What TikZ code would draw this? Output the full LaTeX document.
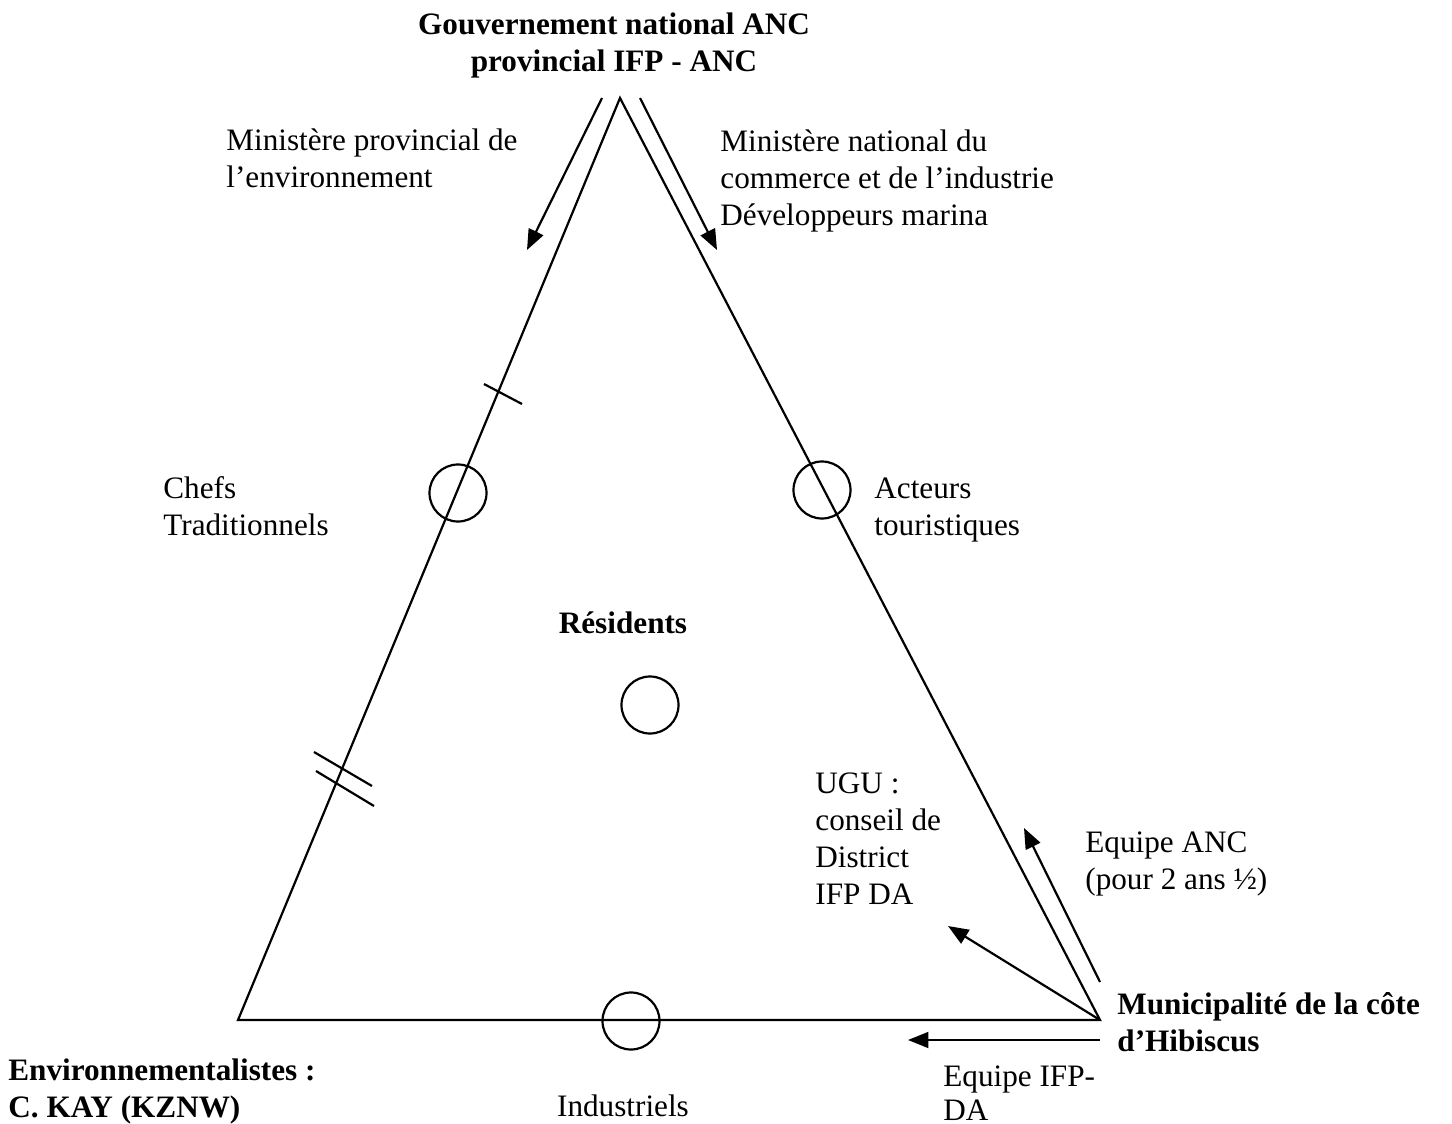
\documentclass[tikz,border=0pt]{standalone}
\usepackage{fontspec}
\setmainfont{Liberation Serif}
\usetikzlibrary{arrows.meta,positioning,calc}

\begin{document}
\begin{tikzpicture}[
  x=0.5pt, y=-0.5pt,
  side/.style={draw, line width=1.1pt},
  flow/.style={draw, line width=1.1pt, -{Triangle[length=3.6mm, width=2.8mm]}},
  actor/.style={circle, draw, line width=1.1pt, minimum size=28.5pt, inner sep=0pt},
  tick/.style={draw, line width=1.1pt},
  lbl/.style={font=\fontsize{15.6}{18.5}\selectfont, align=left, anchor=base west, inner sep=0pt},
  blbl/.style={lbl, font=\fontsize{15.6}{18.5}\selectfont\bfseries}
]
  \useasboundingbox (0,0) rectangle (1452,1124);

  % corners of the triangle
  \coordinate (top) at (620,98);
  \coordinate (left) at (238,1020);
  \coordinate (right) at (1100,1020);
  \draw[side] (top) -- (left) -- (right) -- cycle;

  % actors on the triangle
  \node[actor] (chefs) at (458,493) {};
  \node[actor] (tourism) at (822,490) {};
  \node[actor] (residents) at (650,705) {};
  \node[actor] (industry) at (631,1021) {};

  % marks on the left side
  \coordinate (t1a) at (484,384); \coordinate (t1b) at (522,404);
  \draw[tick] (t1a) -- (t1b);
  \coordinate (t2a) at (314,752); \coordinate (t2b) at (372,786);
  \coordinate (t3a) at (316,771); \coordinate (t3b) at (374,806);
  \draw[tick] (t2a) -- (t2b);
  \draw[tick] (t3a) -- (t3b);

  % arrows from the top
  \coordinate (a1s) at (602,98); \coordinate (a1e) at (527,250);
  \coordinate (a2s) at (640,98); \coordinate (a2e) at (717,250);
  \draw[flow] (a1s) -- (a1e);
  \draw[flow] (a2s) -- (a2e);

  % arrows from the municipality
  \coordinate (b1s) at (1100,982); \coordinate (b1e) at (1024,828);
  \coordinate (b2e) at (948,926);
  \coordinate (b3s) at (1100,1040); \coordinate (b3e) at (908,1040);
  \draw[flow] (b1s) -- (b1e);
  \draw[flow] (right) -- (b2e);
  \draw[flow] (b3s) -- (b3e);

  % labels (anchored at the baseline of the last line)
  \node[blbl, align=center, anchor=base] (gov) at (614,71) {Gouvernement national ANC\\provincial IFP - ANC};
  \node[lbl] (minenv) at (226,187) {Ministère provincial de\\l’environnement};
  \node[lbl] (mincom) at (720,225) {Ministère national du\\commerce et de l’industrie\\Développeurs marina};
  \node[lbl] (chefslbl) at (163,535) {Chefs\\Traditionnels};
  \node[lbl] (tourlbl) at (874,535) {Acteurs\\touristiques};
  \node[blbl, anchor=base] (reslbl) at (623,633) {Résidents};
  \node[lbl] (ugu) at (815,904) {UGU :\\conseil de\\District\\IFP DA};
  \node[lbl] (anc) at (1085,889) {Equipe ANC\\(pour 2 ans ½)};
  \node[blbl] (muni) at (1117,1051) {Municipalité de la côte\\d’Hibiscus};
  \node[blbl] (env) at (8,1117) {Environnementalistes :\\C. KAY (KZNW)};
  \node[lbl, anchor=base] (indlbl) at (623,1116) {Industriels};
  \node[lbl, font=\fontsize{15.6}{17}\selectfont] (ifp) at (943,1120) {Equipe IFP-\\DA};
\end{tikzpicture}
\end{document}
